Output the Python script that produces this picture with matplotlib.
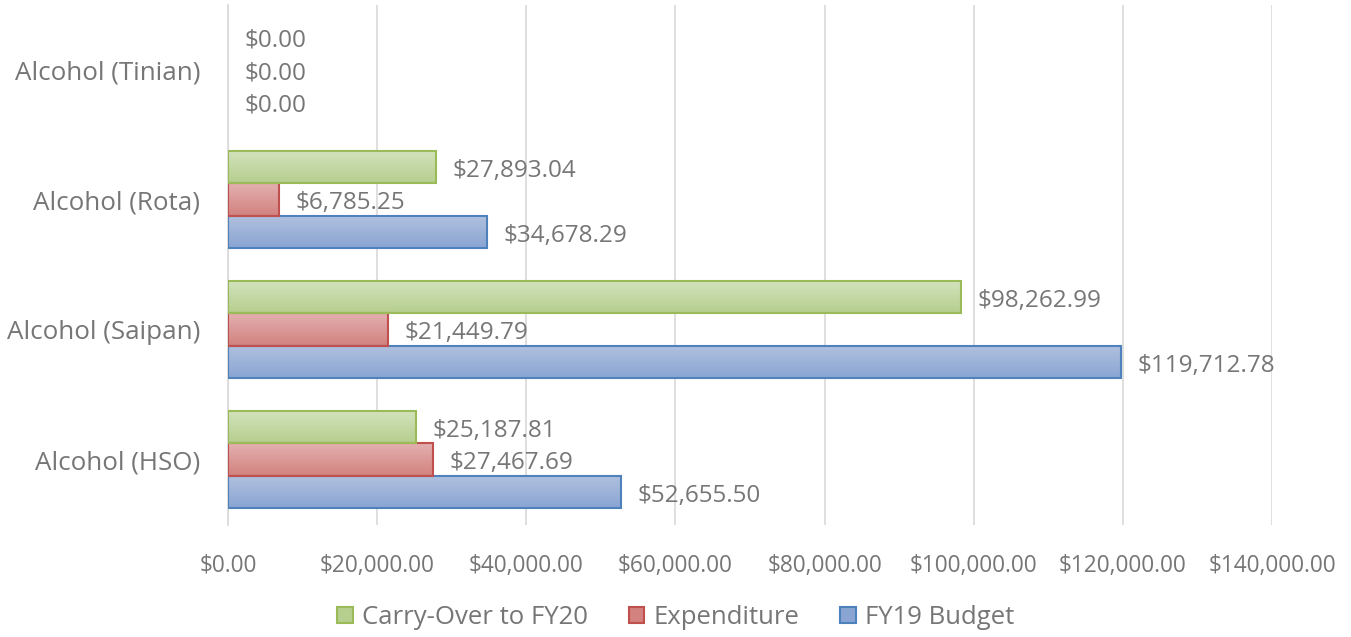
import numpy as np
import matplotlib
matplotlib.use("Agg")
import matplotlib.pyplot as plt
from matplotlib.patches import Patch
from matplotlib.colors import LinearSegmentedColormap

# --- DATA ---
categories = ["Alcohol (HSO)", "Alcohol (Saipan)", "Alcohol (Rota)", "Alcohol (Tinian)"]
fy19_budget = [52655.50, 119712.78, 34678.29, 0.0]
expenditure = [27467.69, 21449.79, 6785.25, 0.0]
carry_over = [25187.81, 98262.99, 27893.04, 0.0]
x_ticks = [0, 20000, 40000, 60000, 80000, 100000, 120000, 140000]

plt.rcParams['font.family'] = ['Open Sans', 'DejaVu Sans']
TXT = '#767676'

# series: (values, label, top colour, bottom colour, edge, offset)
bar_h = 0.249
series = [
    (fy19_budget, "FY19 Budget", "#b0c1de", "#8aa5d3", "#4f81bd", -bar_h),
    (expenditure, "Expenditure", "#e3b0b0", "#d3827f", "#c0504d", 0.0),
    (carry_over, "Carry-Over to FY20", "#d3e3bd", "#b6ce8e", "#9bbb59", bar_h),
]

fig = plt.figure(figsize=(13.51, 6.37), dpi=100)
ax = fig.add_axes([0.1688, 0.1766, 0.7727, 0.8163])

grad = np.linspace(0, 1, 64).reshape(-1, 1)
for vals, lab, top, bot, edge, off in series:
    cmap = LinearSegmentedColormap.from_list(lab, [top, bot])
    for i, v in enumerate(vals):
        y = i + off
        if v > 0:
            ax.imshow(grad, extent=(0, v, y - bar_h / 2, y + bar_h / 2), cmap=cmap,
                      aspect='auto', zorder=2, interpolation='bilinear')
            ax.barh(y, v, height=bar_h, facecolor='none', edgecolor=edge, linewidth=1.5, zorder=3)
        ax.text(v + 2200, y - 0.028, f"${v:,.2f}", va='center', ha='left',
                fontsize=17.5, color=TXT, zorder=4)

ax.set_xlim(0, 140000)
ax.set_ylim(-0.5, 3.5)
ax.set_xticks(x_ticks)
ax.set_xticklabels([f"${t:,.2f}" for t in x_ticks], fontsize=16.3, color=TXT)
ax.set_yticks(range(len(categories)))
ax.set_yticklabels(categories, fontsize=18.7, color=TXT)
ax.tick_params(length=0)
ax.tick_params(axis='y', pad=20)
ax.tick_params(axis='x', pad=21)
ax.grid(axis='x', color='#d9d9d9', linewidth=1.2, zorder=0)
ax.set_axisbelow(True)
for s in ['top', 'right', 'bottom']:
    ax.spines[s].set_visible(False)
ax.spines['left'].set_color('#d9d9d9')
ax.spines['left'].set_linewidth(1.2)

handles = [Patch(facecolor=s[3], edgecolor=s[4], linewidth=1.5, label=s[1]) for s in series[::-1]]
fig.legend(handles=handles, loc='center', bbox_to_anchor=(0.5, 0.03), ncol=3, frameon=False,
           fontsize=18.5, labelcolor=TXT, handlelength=0.6, handleheight=0.6,
           handletextpad=0.35, columnspacing=1.6)

fig.savefig("out.png", dpi=100)
